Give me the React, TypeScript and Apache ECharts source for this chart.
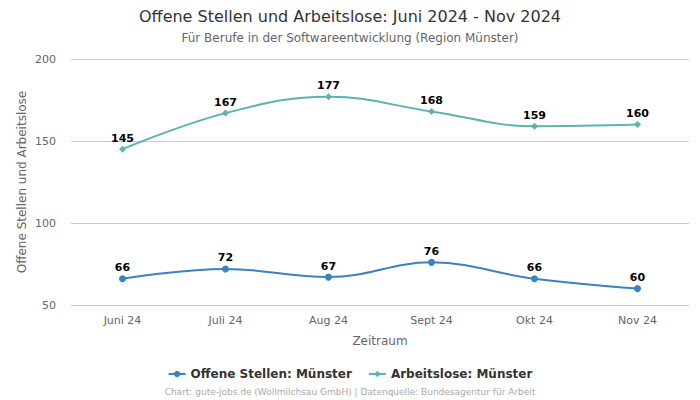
import React, { useEffect, useRef } from "react";
import * as echarts from "echarts";

const categories = ["Juni 24", "Juli 24", "Aug 24", "Sept 24", "Okt 24", "Nov 24"];
const offeneStellen = [66, 72, 67, 76, 66, 60];
const arbeitslose = [145, 167, 177, 168, 159, 160];
const yTicks = { min: 50, max: 200, interval: 50 };

export default function App() {
  const ref = useRef<HTMLDivElement>(null);
  useEffect(() => {
    if (!ref.current) return;
    const chart = echarts.init(ref.current, null, { renderer: "svg" });
    const font = "DejaVu Sans";
    chart.setOption({
      animation: false,
      textStyle: { fontFamily: font },
      title: [
        {
          text: "Offene Stellen und Arbeitslose: Juni 2024 - Nov 2024",
          left: "center",
          top: 3,
          textStyle: { fontSize: 16, fontWeight: "normal", color: "#333", fontFamily: font },
        },
        {
          text: "Für Berufe in der Softwareentwicklung (Region Münster)",
          left: "center",
          top: 27,
          textStyle: { fontSize: 12, fontWeight: "normal", color: "#666", fontFamily: font },
        },
        {
          text: "Chart: gute-jobs.de (Wollmilchsau GmbH) | Datenquelle: Bundesagentur für Arbeit",
          left: "center",
          top: 382,
          textStyle: { fontSize: 9, fontWeight: "normal", color: "#aaa", fontFamily: font },
        },
      ],
      legend: {
        bottom: 15,
        left: "center",
        itemGap: 16,
        itemWidth: 17,
        itemHeight: 8,
        textStyle: { fontSize: 12, fontWeight: "bold", color: "#333", fontFamily: font },
        data: ["Offene Stellen: Münster", "Arbeitslose: Münster"],
      },
      grid: { left: 71, right: 11, top: 59, bottom: 95 },
      xAxis: {
        type: "category",
        data: categories,
        boundaryGap: true,
        name: "Zeitraum",
        nameLocation: "middle",
        nameGap: 30,
        nameTextStyle: { fontSize: 12, color: "#666" },
        axisLine: { show: false },
        axisTick: { show: false },
        axisLabel: { fontSize: 11, color: "#666", margin: 10 },
      },
      yAxis: {
        type: "value",
        min: yTicks.min,
        max: yTicks.max,
        interval: yTicks.interval,
        name: "Offene Stellen und Arbeitslose",
        nameLocation: "middle",
        nameGap: 43,
        nameMoveOverlap: false,
        nameTextStyle: { fontSize: 12, color: "#666" },
        axisLabel: { fontSize: 11, color: "#666", margin: 15 },
        splitLine: { lineStyle: { color: "#ccc" } },
      },
      series: [
        {
          name: "Offene Stellen: Münster",
          type: "line",
          data: offeneStellen,
          smooth: 0.4,
          symbol: "circle",
          symbolSize: 7,
          color: "#3a82c0",
          lineStyle: { width: 2 },
          label: { show: true, position: "top", fontSize: 11, fontWeight: "bold", color: "#000", distance: 2 },
        },
        {
          name: "Arbeitslose: Münster",
          type: "line",
          data: arbeitslose,
          smooth: 0.4,
          symbol: "diamond",
          symbolSize: 7,
          color: "#5bb5ae",
          lineStyle: { width: 2 },
          label: { show: true, position: "top", fontSize: 11, fontWeight: "bold", color: "#000", distance: 2 },
        },
      ],
    });
    return () => chart.dispose();
  }, []);
  return <div ref={ref} style={{ width: 700, height: 400, position: "absolute", left: 0, top: 0 }} />;
}
